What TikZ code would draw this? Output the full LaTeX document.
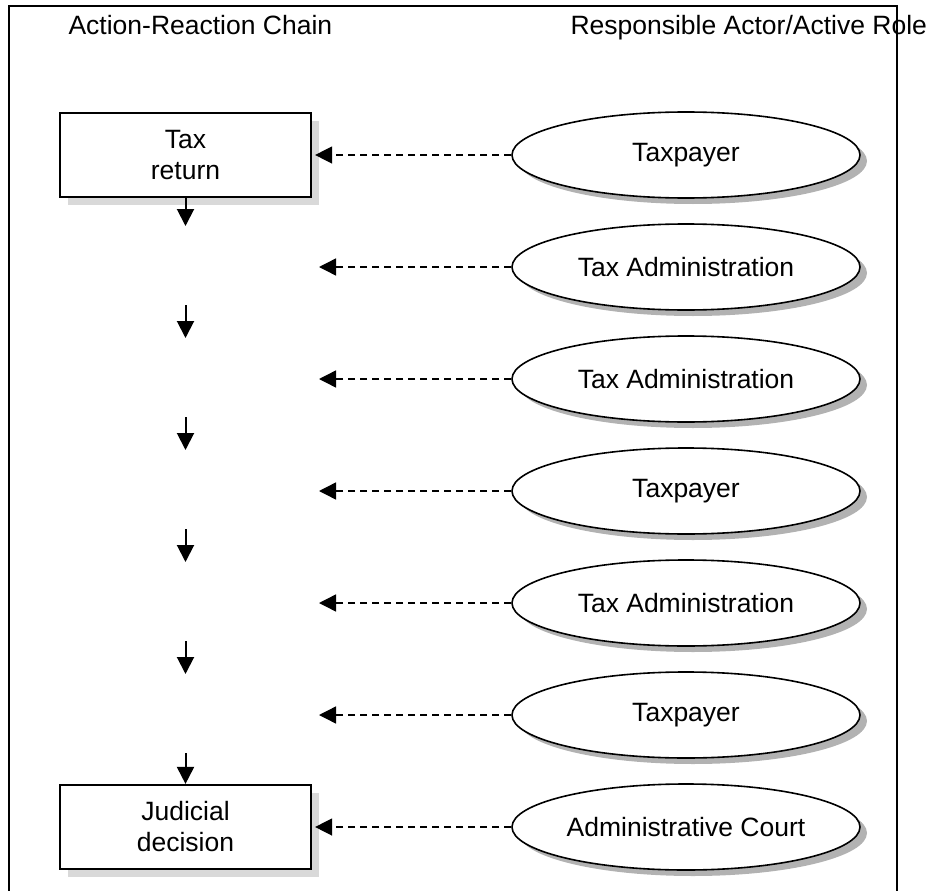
\documentclass[tikz,border=0pt]{standalone}
\usepackage{fontspec}
\setmainfont{Liberation Sans}
\usetikzlibrary{arrows.meta,shadows,shapes.geometric}

\tikzset{
  stage/.style={draw,line width=2.2pt,fill=white,minimum width=251pt,minimum height=84pt,align=center,
    drop shadow={shadow xshift=8pt,shadow yshift=-8pt,fill=black!15,opacity=1}},
  actor/.style={ellipse,draw,line width=1.6pt,fill=white,minimum width=348pt,minimum height=86pt,
    drop shadow={shadow xshift=7pt,shadow yshift=-6pt,fill=black!30,opacity=1}},
  flow/.style={-{Triangle[length=17pt,width=17pt]},line width=2pt},
  role/.style={-{Triangle[length=17pt,width=17pt]},line width=1.4pt,dash pattern=on 7pt off 5pt,shorten >=3pt},
}

\begin{document}
\begin{tikzpicture}[x=1pt,y=-1pt,font=\fontsize{26.5}{31}\selectfont]
  \useasboundingbox (0,0) rectangle (927,891);

  \node[anchor=base west] (chain) at (65,35) {Action-Reaction Chain};
  \node[anchor=base west] (roles) at (567,35) {Responsible Actor/Active Role};
  \draw[line width=1.6pt] (9,891) -- (9,6) -- (897,6) -- (897,891);

  \node[stage] (return) at (185.5,155) {Tax\\return};
  \node[stage] (decision) at (185.5,827) {Judicial\\decision};

  \foreach \i/\who in {1/Taxpayer,2/Tax Administration,3/Tax Administration,4/Taxpayer,
                       5/Tax Administration,6/Taxpayer,7/Administrative Court}
    \node[actor] (actor\i) at (686,{155+112*(\i-1)}) {\who};

  % chain of actions
  \coordinate (tip0) at (185.5,226);
  \draw[flow] (return) -- (tip0);
  \foreach \k in {1,...,4} {
    \coordinate (top\k) at (185.5,{305+112*(\k-1)});
    \coordinate (tip\k) at (185.5,{338+112*(\k-1)});
    \draw[flow] (top\k) -- (tip\k);
  }
  \coordinate (top5) at (185.5,753);
  \draw[flow] (top5) -- (decision);

  % who acts
  \draw[role] (actor1) -- (return);
  \foreach \i in {2,...,6} {
    \coordinate (gap\i) at (316,{155+112*(\i-1)});
    \draw[role] (actor\i) -- (gap\i);
  }
  \draw[role] (actor7) -- (decision);
\end{tikzpicture}
\end{document}
